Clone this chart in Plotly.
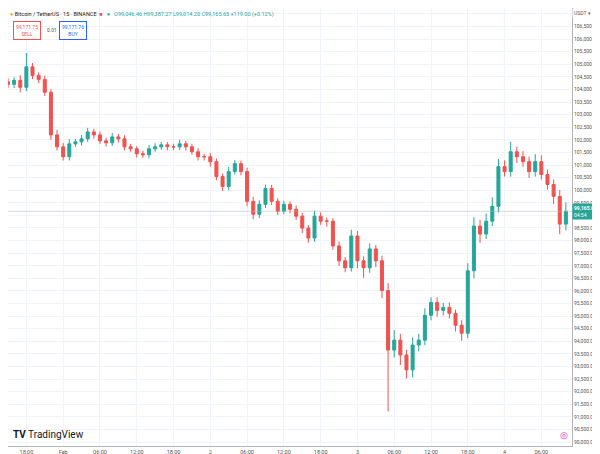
import plotly.graph_objects as go
import pandas as pd

closes = [104205,104362,104087,104900,104559,104401,103890,102197,101724,101331,
          101842,101921,102039,102315,102197,101961,101882,102118,102039,101724,
          101646,101449,101409,101646,101724,101803,101724,101724,101842,101724,
          101528,101331,101331,101134,100543,100150,100740,101055,100740,99559,
          99047,99441,100071,99559,99165,99441,99244,98969,98496,98102,
          98969,98772,98772,97787,97197,96921,98181,97197,96921,97669,
          97197,96015,93653,94047,93457,92866,93850,94047,95031,95543,
          95228,95346,95110,94638,94323,96803,98575,98260,98772,99362,
          100937,100740,101528,101331,101134,100740,101134,100622,100228,99756,
          98654,99165]
highs_ext = [150,120,200,550,150,120,150,120,200,150,
             180,120,150,160,120,140,120,150,120,140,
             120,100,120,150,140,120,110,120,160,120,
             120,140,120,150,120,120,180,150,120,150,
             180,160,150,140,120,140,120,150,130,120,
             220,150,140,120,180,150,250,200,180,220,
             150,200,300,400,250,200,300,250,280,200,
             200,180,200,150,200,300,350,250,300,350,
             300,250,400,200,220,200,300,250,200,200,
             250,350]
lows_ext = [150,150,200,150,150,150,150,200,150,150,
            150,120,150,120,150,120,150,120,150,140,
            120,150,120,150,120,120,140,120,120,150,
            120,150,150,200,150,180,150,120,150,200,
            200,150,150,150,150,120,150,150,200,180,
            150,150,220,150,200,180,150,300,400,200,
            250,300,2440,300,400,350,300,250,200,200,
            250,200,200,250,300,200,300,350,200,200,
            250,200,200,250,200,250,200,200,200,300,
            400,250]

times = pd.date_range("2025-01-31 15:00", periods=len(closes), freq="h")
opens = [closes[0] + 100] + closes[:-1]
highs = [max(o, c) + e for o, c, e in zip(opens, closes, highs_ext)]
lows = [min(o, c) - e for o, c, e in zip(opens, closes, lows_ext)]

tick_times = pd.date_range("2025-01-31 18:00", "2025-02-04 06:00", freq="6h")
tick_text = ["18:00","Feb","06:00","12:00","18:00","2","06:00","12:00","18:00",
             "3","06:00","12:00","18:00","4","06:00"]
price_ticks = list(range(90000, 107001, 500))
price_text = [f"{v:,.2f}" for v in price_ticks]

up, dn = "#26a69a", "#ef5350"
fig = go.Figure(go.Candlestick(
    x=times, open=opens, high=highs, low=lows, close=closes,
    increasing=dict(line=dict(color=up, width=1), fillcolor=up),
    decreasing=dict(line=dict(color=dn, width=1), fillcolor=dn),
    whiskerwidth=0, showlegend=False, hoverinfo="skip"))

last = closes[-1]
fig.add_hline(y=last, line=dict(color="#b2b5be", width=1), opacity=0.5)

fig.update_layout(
    width=600, height=454, paper_bgcolor="white", plot_bgcolor="white",
    margin=dict(l=0, r=36, t=0, b=16),
    font=dict(family="Roboto, Arial", size=6, color="#131722"),
    xaxis=dict(rangeslider=dict(visible=False), range=["2025-01-31 15:00", "2025-02-04 11:00"],
               tickvals=tick_times, ticktext=tick_text, showgrid=True, gridcolor="#f0f3fa",
               tickfont=dict(size=5.5, color="#555"), showline=True, linecolor="#b2b5be",
               ticks="", zeroline=False),
    yaxis=dict(side="right", range=[89843, 107236], tickvals=price_ticks, ticktext=price_text,
               showgrid=True, gridcolor="#f0f3fa", tickfont=dict(size=5, color="#555"),
               showline=True, linecolor="#b2b5be", zeroline=False, ticks=""),
)

fig.add_annotation(xref="paper", yref="y", x=1.0, y=last, xanchor="left",
                   text=f"<b>{last:,.2f}</b><br>04:54", showarrow=False, bgcolor=up,
                   font=dict(color="white", size=5), align="left", borderpad=1)
fig.add_annotation(xref="paper", yref="paper", x=1.0, y=1.0, xanchor="left", yanchor="top",
                   text="USDT ▾", showarrow=False, font=dict(size=5, color="#555"), bgcolor="white")
fig.add_annotation(xref="paper", yref="paper", x=0.0, y=0.998, xanchor="left", yanchor="top",
                   text="<span style='color:#f7931a'>●</span> Bitcoin / TetherUS · 15 · BINANCE  "
                        "<span style='color:#ef5350'>■</span>   <span style='color:#26a69a'>●</span>   "
                        "<span style='color:#26a69a'>O99,046.46 H99,387.27 L99,014.20 C99,165.65 +119.00 (+0.12%)</span>",
                   showarrow=False, font=dict(size=5.5, color="#131722"))
fig.add_annotation(xref="paper", yref="paper", x=0.008, y=0.97, xanchor="left", yanchor="top",
                   text="99,171.75<br>SELL", showarrow=False, font=dict(size=5, color="#ef5350"),
                   bordercolor="#ef5350", borderwidth=1, borderpad=2, bgcolor="white")
fig.add_annotation(xref="paper", yref="paper", x=0.066, y=0.962, xanchor="left", yanchor="top",
                   text="0.01", showarrow=False, font=dict(size=5, color="#555"))
fig.add_annotation(xref="paper", yref="paper", x=0.09, y=0.97, xanchor="left", yanchor="top",
                   text="99,171.76<br>BUY", showarrow=False, font=dict(size=5, color="#2962ff"),
                   bordercolor="#2962ff", borderwidth=1, borderpad=2, bgcolor="white")
fig.add_annotation(xref="paper", yref="paper", x=0.005, y=0.01, xanchor="left", yanchor="bottom",
                   text="<b>TV</b> TradingView", showarrow=False, font=dict(size=10, color="#131722"))
fig.add_annotation(xref="paper", yref="paper", x=0.985, y=0.01, xanchor="center", yanchor="bottom",
                   text="◎", showarrow=False, font=dict(size=9, color="#c040c0"))

fig.write_html("out.html")
